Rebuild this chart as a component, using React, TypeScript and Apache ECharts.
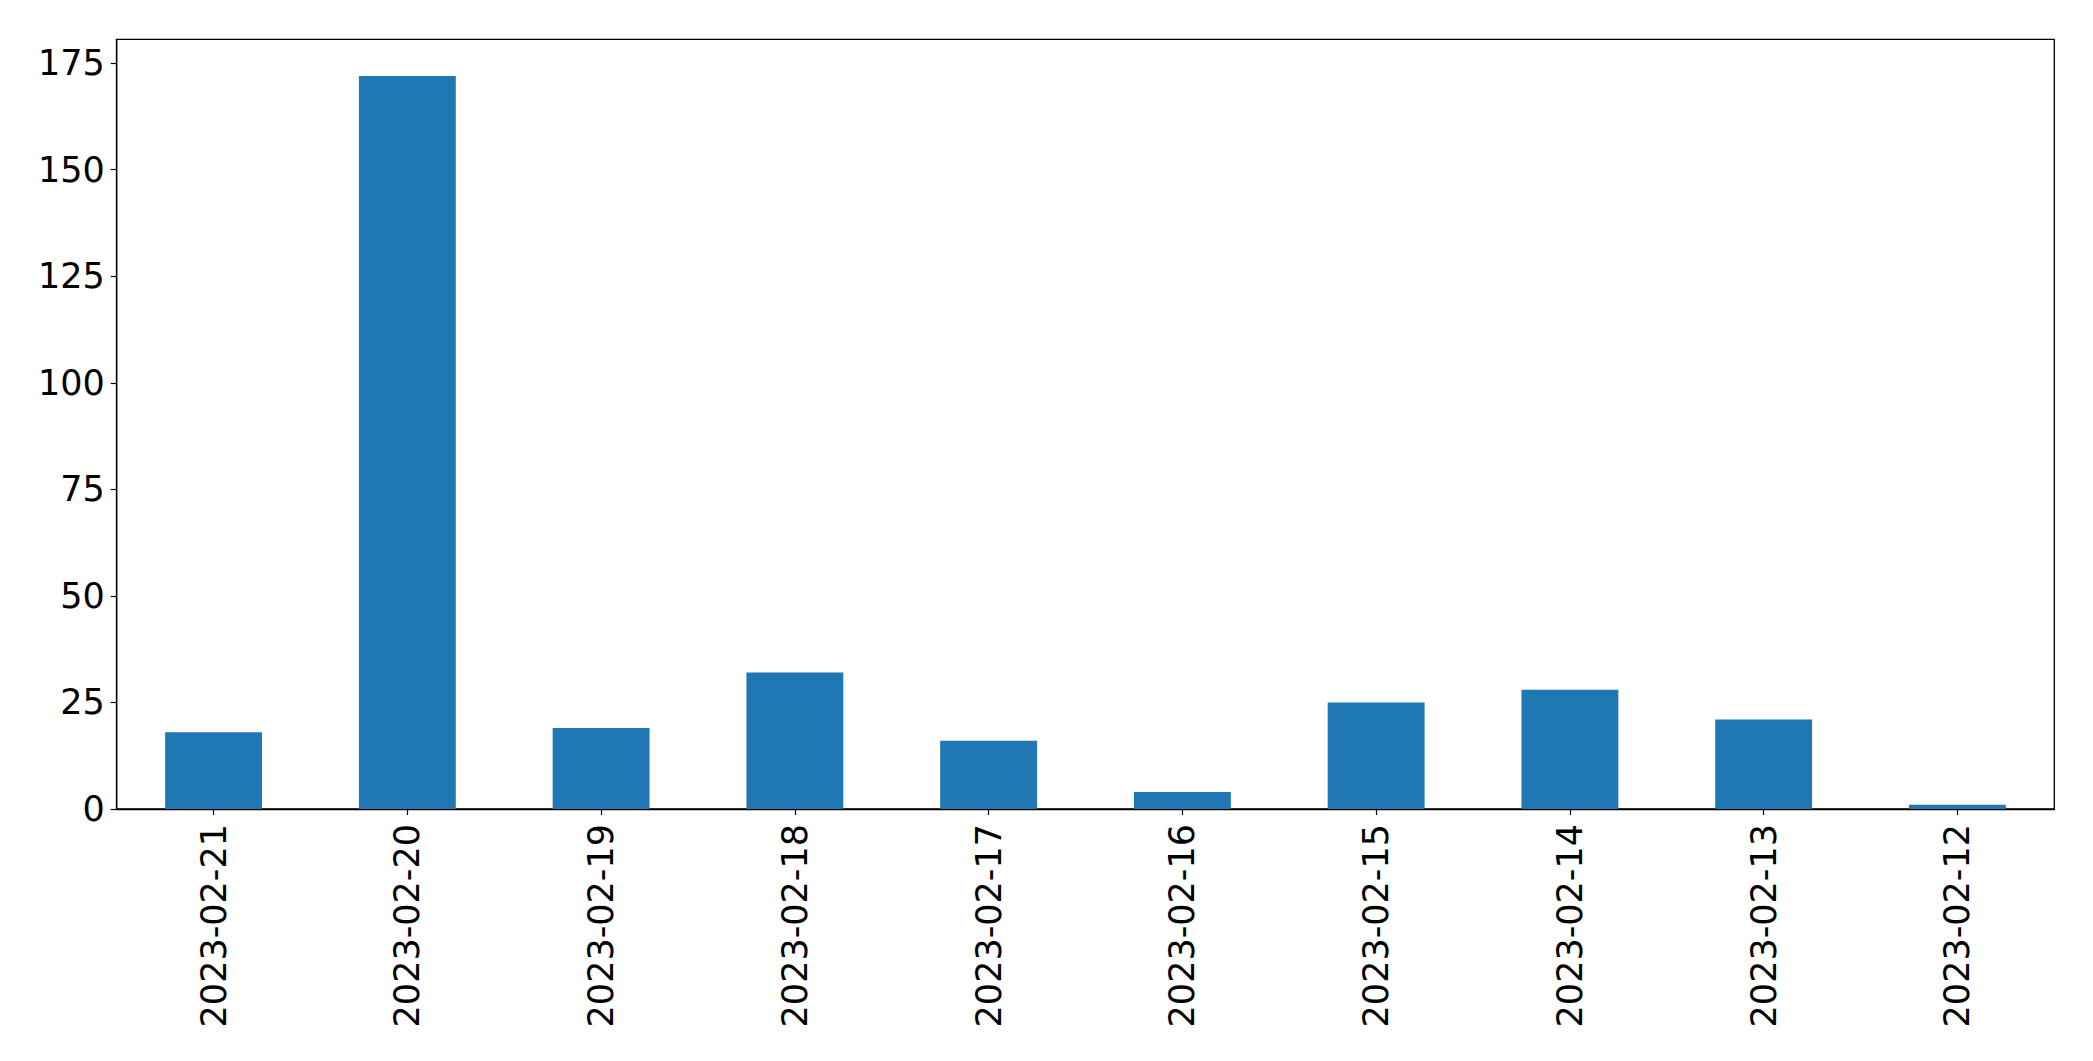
import React, { useEffect, useRef } from "react";
import * as echarts from "echarts";

const categories = [
  "2023-02-21",
  "2023-02-20",
  "2023-02-19",
  "2023-02-18",
  "2023-02-17",
  "2023-02-16",
  "2023-02-15",
  "2023-02-14",
  "2023-02-13",
  "2023-02-12",
];
const values = [18, 172, 19, 32, 16, 4, 25, 28, 21, 1];
const yTicks = [0, 25, 50, 75, 100, 125, 150, 175];
const yMax = 180.6;

export default function App() {
  const ref = useRef<HTMLDivElement>(null);
  useEffect(() => {
    if (!ref.current) return;
    const chart = echarts.init(ref.current, null, { renderer: "svg" });
    const font = "DejaVu Sans";
    chart.setOption({
      animation: false,
      backgroundColor: "#ffffff",
      grid: {
        left: 116.7,
        top: 39.3,
        right: 38.7,
        bottom: 252,
        show: true,
        borderColor: "#000000",
        borderWidth: 1.3,
        backgroundColor: "transparent",
      },
      xAxis: {
        type: "category",
        data: categories,
        boundaryGap: true,
        axisLine: { show: true, lineStyle: { color: "#000", width: 1.3 } },
        axisTick: {
          show: true,
          alignWithLabel: true,
          length: 6,
          lineStyle: { color: "#000", width: 1.2 },
        },
        axisLabel: {
          rotate: 90,
          margin: 15,
          fontFamily: font,
          fontSize: 35,
          color: "#000",
          interval: 0,
        },
        splitLine: { show: false },
      },
      yAxis: {
        type: "value",
        min: 0,
        max: yMax,
        interval: 25,
        axisLine: { show: true, lineStyle: { color: "#000", width: 1.3 } },
        axisTick: {
          show: true,
          length: 6,
          lineStyle: { color: "#000", width: 1.2 },
          customValues: yTicks,
        },
        axisLabel: {
          margin: 12,
          fontFamily: font,
          fontSize: 35,
          color: "#000",
          customValues: yTicks,
          formatter: (v: number) => (yTicks.includes(v) ? String(v) : ""),
        },
        splitLine: { show: false },
      },
      series: [
        {
          type: "bar",
          data: values,
          barWidth: "50%",
          itemStyle: { color: "#1f77b4" },
        },
      ],
    });
    return () => chart.dispose();
  }, []);
  return (
    <div
      ref={ref}
      style={{ position: "fixed", left: 0, top: 0, width: 2093, height: 1061 }}
    />
  );
}
